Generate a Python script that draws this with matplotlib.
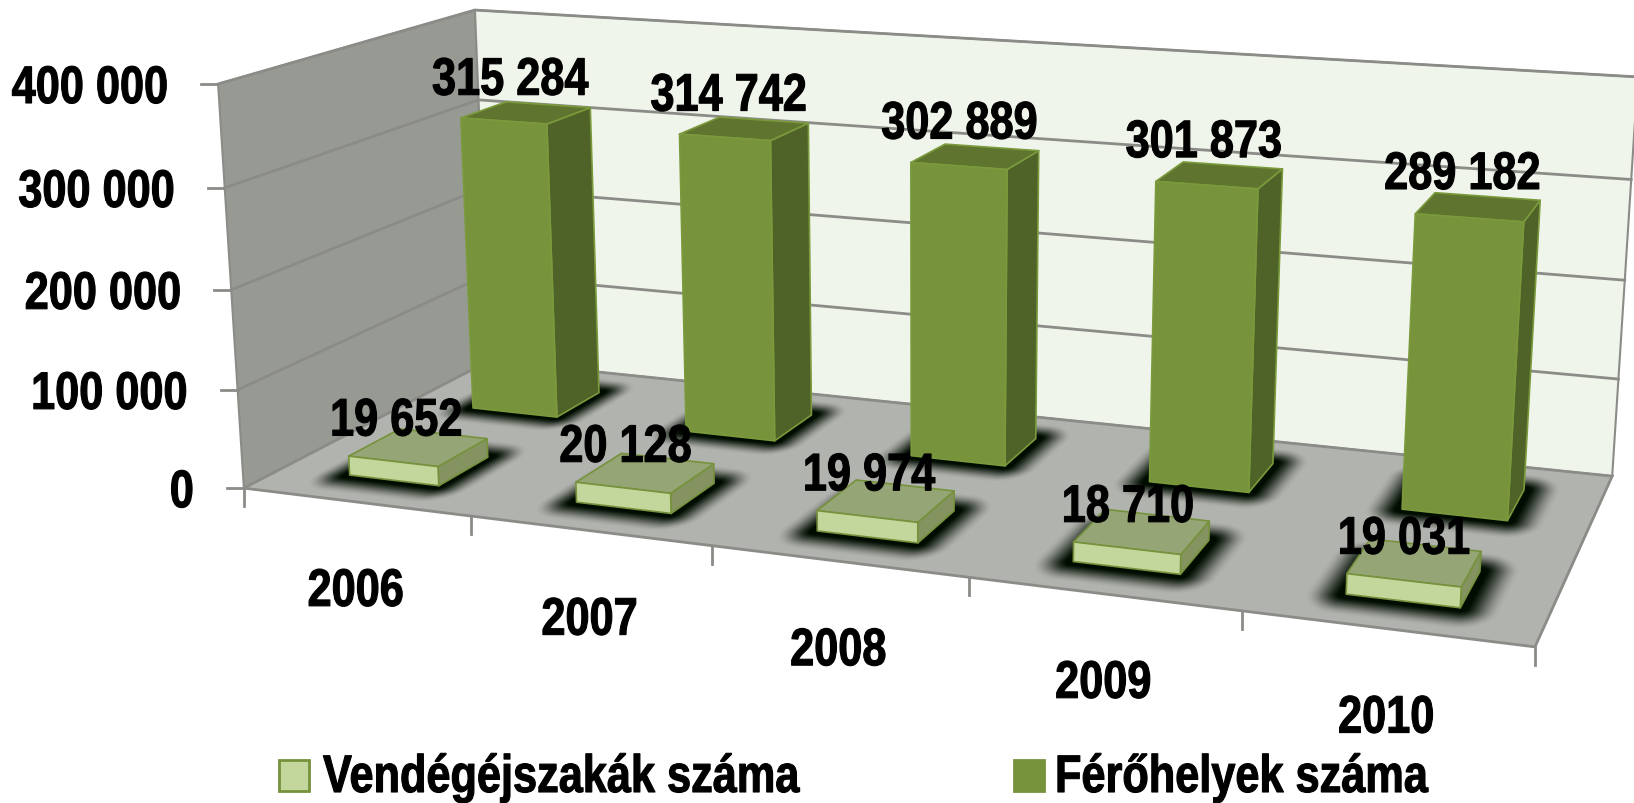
import numpy as np
import matplotlib
matplotlib.use('Agg')
import matplotlib.pyplot as plt
from matplotlib.patches import Polygon, Rectangle
from matplotlib.patheffects import AbstractPathEffect
from matplotlib.transforms import Affine2D

years = ['2006', '2007', '2008', '2009', '2010']
guest_nights = [19652, 20128, 19974, 18710, 19031]
beds = [315284, 314742, 302889, 301873, 289182]
y_ticks = [0, 100000, 200000, 300000, 400000]
legend_labels = ['Vendégéjszakák száma', 'Férőhelyek száma']

W, H = 1634, 804
FONT = 'Liberation Sans'
FS = 38
SQUEEZE = 0.82

# camera fitted on the corners of the chart box: (category, depth, value/100k) -> pixel
world = [(0, 0, 0), (5, 0, 0), (0, 1, 0), (5, 1, 0), (0, 0, 4), (0, 1, 4), (5, 1, 4)]
pixel = [(243, 489), (1535, 648), (490, 362), (1612, 477), (219, 85), (474, 11), (1638, 78)]
rows = []
for (a, b, c), (px, py) in zip(world, pixel):
    rows.append([a, b, c, 1, 0, 0, 0, 0, -px * a, -px * b, -px * c, -px])
    rows.append([0, 0, 0, 0, a, b, c, 1, -py * a, -py * b, -py * c, -py])
P = np.linalg.svd(np.array(rows, dtype=float))[2][-1].reshape(3, 4)


def proj(u, d, v=0):
    p = P @ np.array([u, d, v / 100000, 1.0])
    return p[0] / p[2], p[1] / p[2]


class Squeeze(AbstractPathEffect):
    # the reference font is a condensed bold, squeeze the glyphs towards the left edge of the text
    def __init__(self, x0):
        super().__init__()
        self.x0 = x0

    def draw_path(self, renderer, gc, tpath, affine, rgbFace=None):
        aff = affine + Affine2D().translate(-self.x0, 0).scale(SQUEEZE, 1).translate(self.x0, 0)
        gc0 = renderer.new_gc()
        gc0.copy_properties(gc)
        gc0.set_linewidth(0.8)
        gc0.set_foreground('black')
        renderer.draw_path(gc0, tpath, aff, rgbFace)
        gc0.restore()


fig = plt.figure(figsize=(W / 100, H / 100), dpi=100)
ax = fig.add_axes([0, 0, 1, 1])
ax.set_xlim(0, W)
ax.set_ylim(H, 0)
ax.axis('off')
rend = fig.canvas.get_renderer()


def label(x, y, s, align='center', va='center'):
    t = ax.text(x, y, s, ha='left', va=va, family=FONT, fontweight='bold', fontsize=FS, zorder=21)
    w = t.get_window_extent(rend).width * SQUEEZE
    left = x - w if align == 'right' else x - w / 2 if align == 'center' else x
    t.set_x(left)
    t.set_path_effects([Squeeze(left)])
    return t


GRID = '#8b8c88'
TOP = y_ticks[-1]

# walls and floor
ax.add_patch(Polygon([proj(0, 0), proj(0, 1), proj(0, 1, TOP), proj(0, 0, TOP)], fc='#979993', ec=GRID, lw=1.5, zorder=1))
ax.add_patch(Polygon([proj(0, 1), proj(5, 1), proj(5, 1, TOP), proj(0, 1, TOP)], fc='#eff5eb', ec=GRID, lw=1.5, zorder=1))
for t in y_ticks[1:]:
    ax.plot(*zip(proj(0, 0, t), proj(0, 1, t), proj(5, 1, t)), color=GRID, lw=2, zorder=2)
floor = Polygon([proj(0, 0), proj(5, 0), proj(5, 1), proj(0, 1)], fc='#b1b3ae', ec=GRID, lw=2, zorder=3)
ax.add_patch(floor)

# axis ticks
for t in y_ticks:
    x, y = proj(0, 0, t)
    ax.plot([x - 17, x], [y, y], color=GRID, lw=2, zorder=4)
    label(x - 50, y + 5, f'{t:,}'.replace(',', ' '), align='right')
for i in range(6):
    x, y = proj(i, 0)
    ax.plot([x, x], [y, y + 18], color=GRID, lw=2, zorder=4)
for i, year in enumerate(years):
    x, y = proj(i + 0.5, 0)
    label(x, y + 90, year)

# bar footprints in chart units
half_w = 0.20
front_depth = (0.145, 0.345)
back_depth = (0.65, 0.85)

# soft shadow on the floor
xx, yy = np.meshgrid(np.arange(W) + 0.5, np.arange(H) + 0.5)
Hinv = np.linalg.inv(P[:, [0, 1, 3]])
q = Hinv @ np.stack([xx.ravel(), yy.ravel(), np.ones(xx.size)])
uu = (q[0] / q[2]).reshape(xx.shape)
dd = (q[1] / q[2]).reshape(xx.shape)
shade = np.zeros(xx.shape)
for i in range(len(years)):
    for d0, d1 in (front_depth, back_depth):
        ex = np.maximum(np.abs(uu - (i + 0.5)) - half_w, 0) / 0.14
        ey = np.maximum(np.abs(dd - (d0 + d1) / 2) - (d1 - d0) / 2, 0) / 0.11
        t = np.clip(1 - np.hypot(ex, ey), 0, 1)
        shade = np.maximum(shade, t * t * (3 - 2 * t))
rgba = np.zeros(xx.shape + (4,))
rgba[..., 1] = 0.05
rgba[..., 3] = np.clip(shade * 1.1, 0, 1)
im = ax.imshow(rgba, extent=(0, W, H, 0), zorder=4, aspect='auto', interpolation='bilinear')
im.set_clip_path(floor)
ax.set_xlim(0, W)
ax.set_ylim(H, 0)


def draw_bar(i, value, depth, colors, zorder):
    u0, u1 = i + 0.5 - half_w, i + 0.5 + half_w
    d0, d1 = depth
    c_front, c_side, c_top, c_edge = colors
    faces = [
        ([proj(u1, d0), proj(u1, d1), proj(u1, d1, value), proj(u1, d0, value)], c_side),
        ([proj(u0, d0, value), proj(u1, d0, value), proj(u1, d1, value), proj(u0, d1, value)], c_top),
        ([proj(u0, d0), proj(u1, d0), proj(u1, d0, value), proj(u0, d0, value)], c_front),
    ]
    for pts, col in faces:
        ax.add_patch(Polygon(pts, fc=col, ec=c_edge, lw=1.2, joinstyle='round', zorder=zorder))


dark = ('#77933c', '#4f6228', '#5f752f', '#7a9a3c')
light = ('#c3d69b', '#84935f', '#95a575', '#76923c')
for i, v in enumerate(beds):
    draw_bar(i, v, back_depth, dark, 5)
for i, v in enumerate(guest_nights):
    draw_bar(i, v, front_depth, light, 6)

# data labels
for i, v in enumerate(beds):
    x, y = proj(i + 0.5, sum(back_depth) / 2, v)
    label(x - 16, y - 32, f'{v:,}'.replace(',', ' '))
for i, v in enumerate(guest_nights):
    x, y = proj(i + 0.5, sum(front_depth) / 2 - 0.08, v)
    label(x - 2, y - 37, f'{v:,}'.replace(',', ' '))

# legend
for sx, tx, text, col in ((279, 323, legend_labels[0], light), (1014, 1055, legend_labels[1], dark)):
    ax.add_patch(Rectangle((sx, 761), 30, 31, fc=col[0], ec='#76923c', lw=2, zorder=20))
    label(tx, 793, text, align='left', va='baseline')

fig.savefig('out.png', dpi=100, facecolor='white')
